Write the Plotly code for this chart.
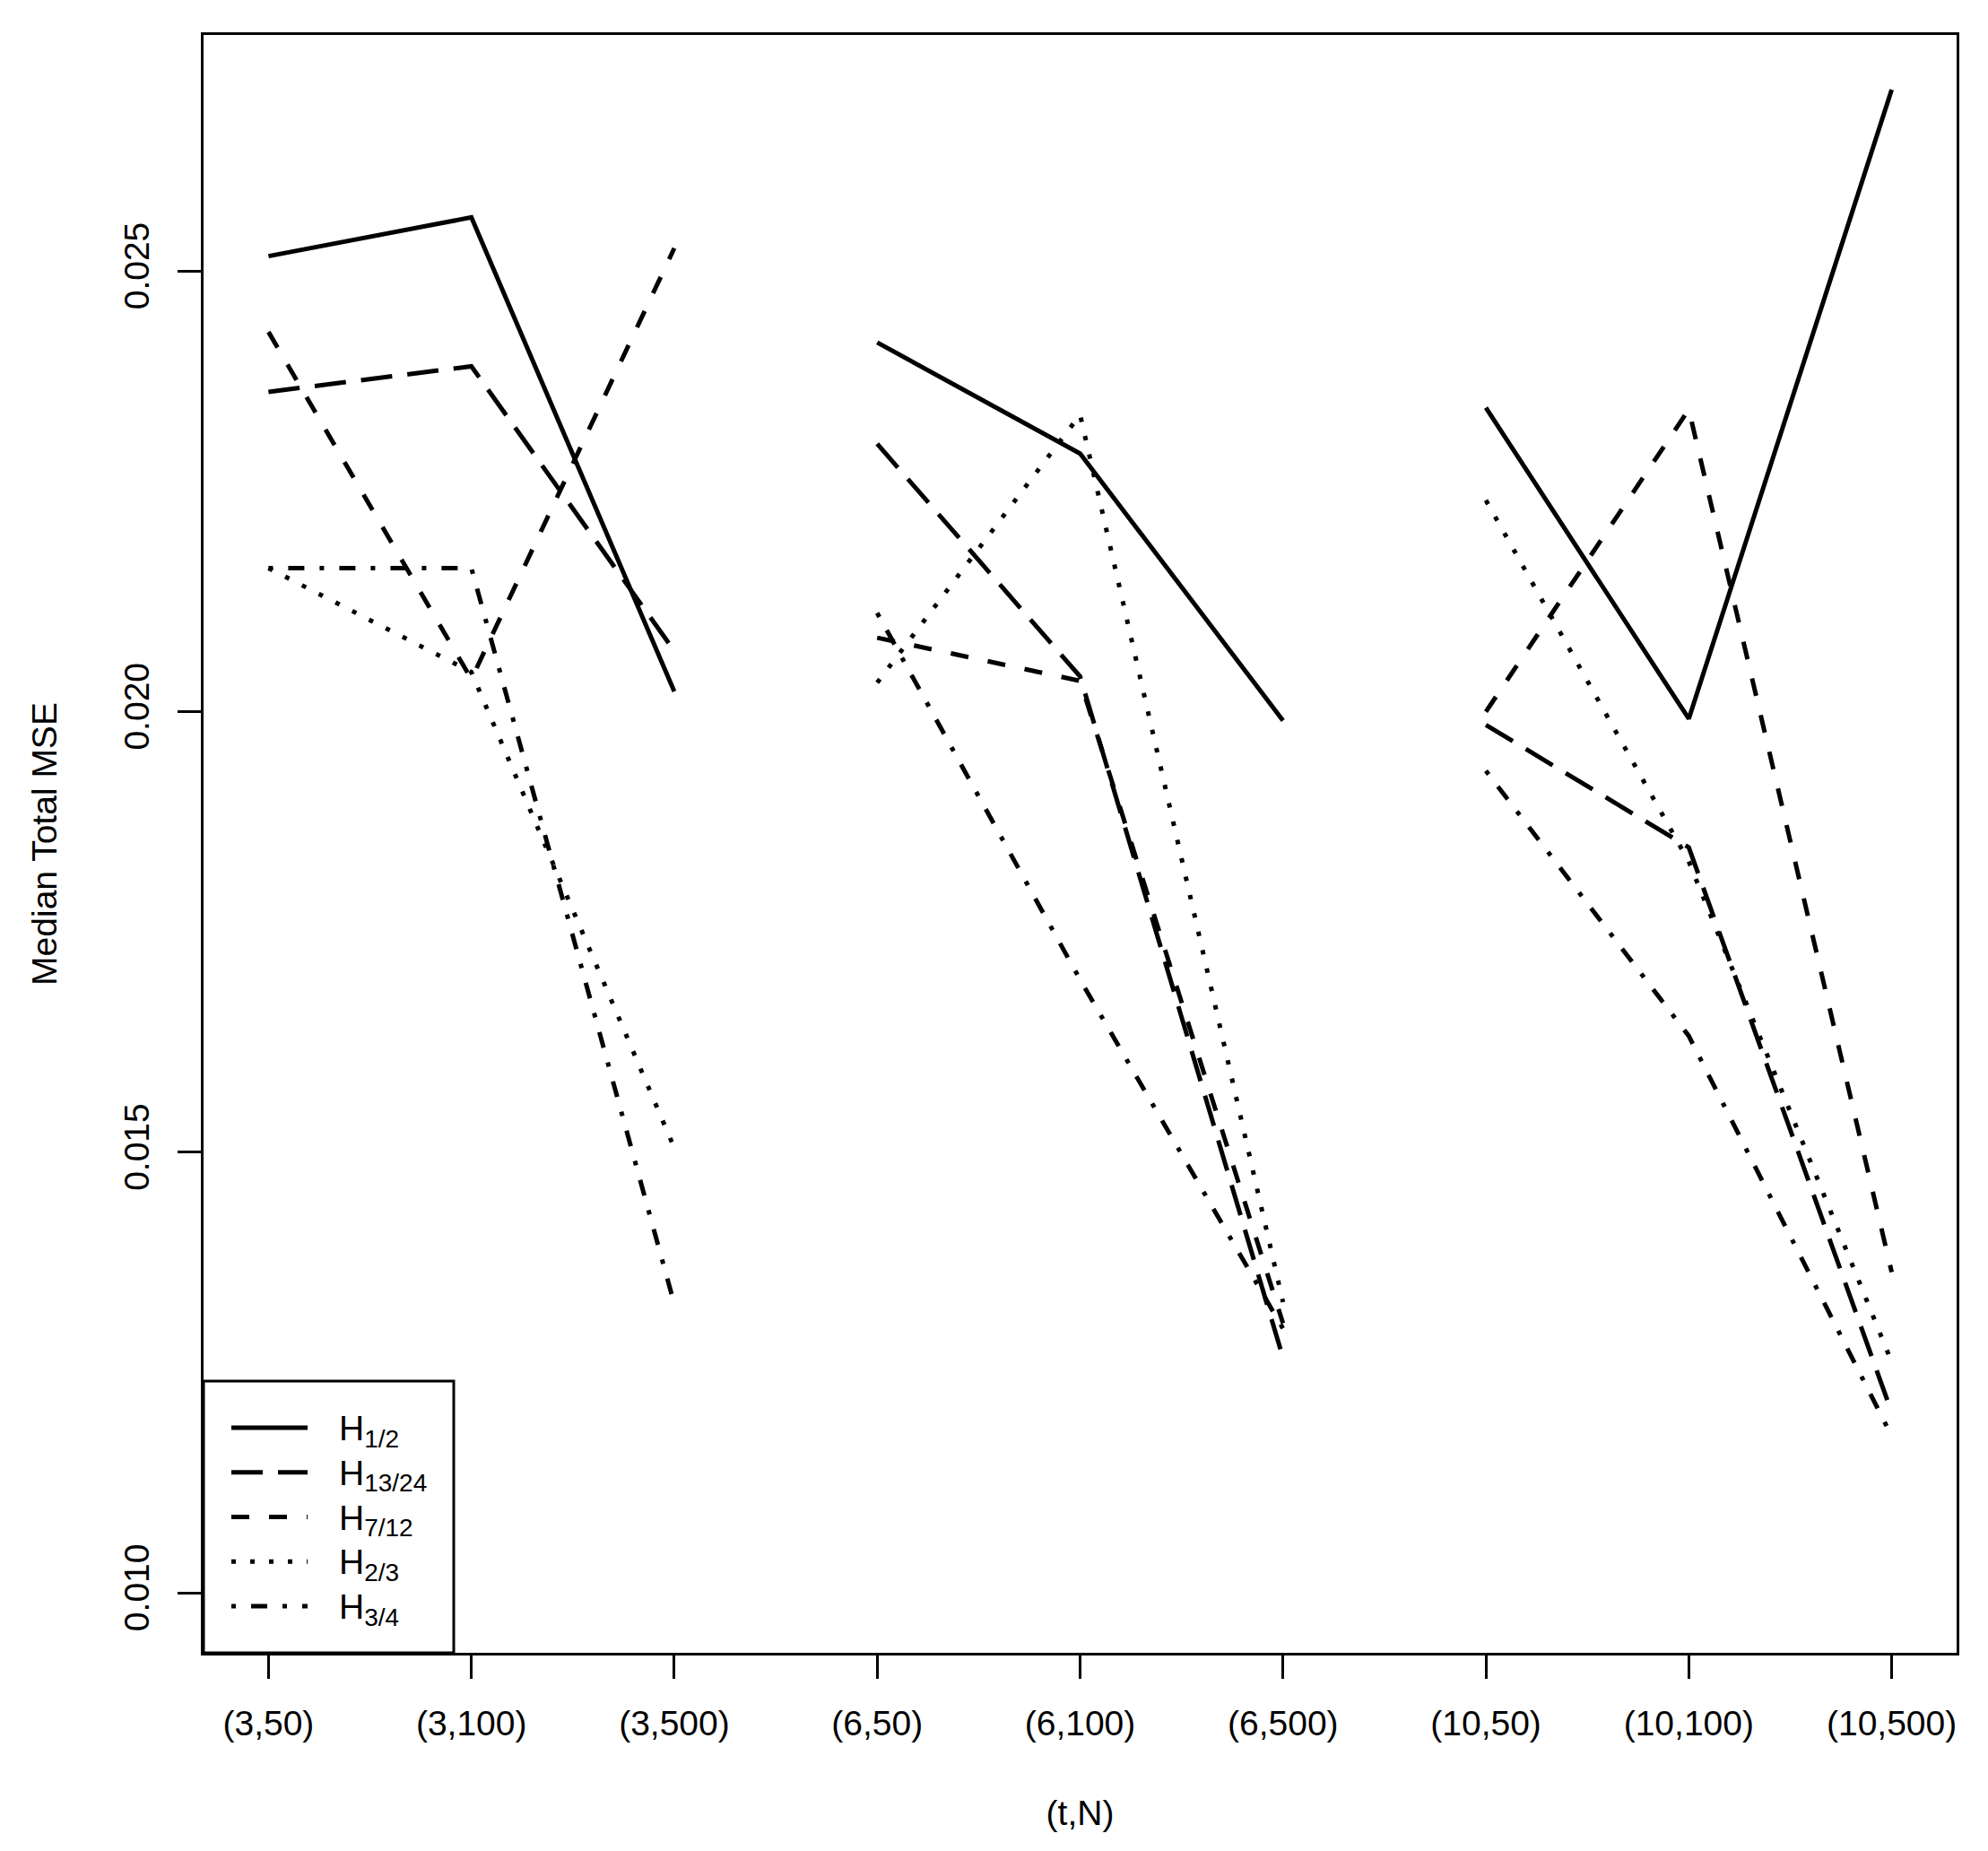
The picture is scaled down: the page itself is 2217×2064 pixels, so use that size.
import plotly.graph_objects as go

# (t,N) settings on the x axis
settings = ["(3,50)", "(3,100)", "(3,500)",
            "(6,50)", "(6,100)", "(6,500)",
            "(10,50)", "(10,100)", "(10,500)"]
group_size = 3

# median total MSE per estimator
h_1_2 = [0.02517, 0.02561, 0.02023, 0.02419, 0.02293, 0.01990, 0.02345, 0.01992, 0.02706]
h_13_24 = [0.02363, 0.02392, 0.02069, 0.02304, 0.02040, 0.01267, 0.01985, 0.01846, 0.01205]
h_7_12 = [0.02431, 0.02037, 0.02526, 0.02084, 0.02035, 0.01306, 0.02000, 0.02343, 0.01364]
h_2_3 = [0.02163, 0.02045, 0.01505, 0.02033, 0.02337, 0.01330, 0.02240, 0.01830, 0.01262]
h_3_4 = [0.02163, 0.02163, 0.01328, 0.02112, 0.01696, 0.01300, 0.01933, 0.01632, 0.01178]

subscripts = ["1/2", "13/24", "7/12", "2/3", "3/4"]
y_ticks = [0.010, 0.015, 0.020, 0.025]

FONT = "Liberation Sans, Arial, sans-serif"
NBSP = "\u00a0"

dashes = ["solid", "35px,17px", "20px,22px", "5px,16px", "5px,17px,18px,17px"]
values_list = [h_1_2, h_13_24, h_7_12, h_2_3, h_3_4]

# page body has an 8px margin, so the plot box is placed with that in mind
W, H = 2217, 2064
M_L, M_R, M_T, M_B = 219, 43, 31, 229
plot_w = W - M_L - M_R
plot_h = H - M_T - M_B


def with_breaks(values):
    # lines are not joined between the t groups
    xs, ys = [], []
    for i, v in enumerate(values):
        if i > 0 and i % group_size == 0:
            xs.append(None)
            ys.append(None)
        xs.append(i + 1)
        ys.append(v)
    return xs, ys


def legend_label(sub):
    return (NBSP * 3 + "<span style='font-size:39px'>H</span>"
            + "<sub><span style='font-size:28px'>" + sub + "</span></sub>")


fig = go.Figure()
for sub, values, dash in zip(subscripts, values_list, dashes):
    xs, ys = with_breaks(values)
    fig.add_trace(go.Scatter(
        x=xs, y=ys, name=legend_label(sub), mode="lines", connectgaps=False,
        line=dict(color="black", width=5, dash=dash),
    ))

axis_common = dict(
    showline=True, linecolor="black", linewidth=3, mirror=True,
    showgrid=False, zeroline=False,
    ticks="outside", ticklen=26, tickwidth=3, tickcolor="black",
    tickfont=dict(family=FONT, size=39, color="black"),
)

fig.update_xaxes(
    range=[0.68, 9.32],
    tickvals=list(range(1, len(settings) + 1)), ticktext=settings,
    ticklabelstandoff=16,
    title=dict(text="(t,N)", font=dict(family=FONT, size=39, color="black"), standoff=66),
    **axis_common,
)
fig.update_yaxes(
    range=[0.00932, 0.02768],
    tickvals=y_ticks, ticktext=[f"{v:.3f}" for v in y_ticks],
    tickangle=-90, ticklabelstandoff=16,
    title=dict(text="Median Total MSE", font=dict(family=FONT, size=39, color="black"), standoff=56),
    **axis_common,
)

# legend frame (bottom-left, like R's legend box)
fig.add_shape(
    type="rect", xref="paper", yref="paper",
    x0=0, x1=279 / plot_w, y0=0, y1=303 / plot_h,
    line=dict(color="black", width=3), fillcolor="white", layer="below",
)

fig.update_layout(
    width=W, height=H,
    margin=dict(l=M_L, r=M_R, t=M_T, b=M_B, autoexpand=False),
    plot_bgcolor="white", paper_bgcolor="white",
    font=dict(family=FONT, size=39, color="black"),
    showlegend=True,
    legend=dict(
        x=26 / plot_w, y=(303 - 22) / plot_h, xanchor="left", yanchor="top",
        borderwidth=0, bgcolor="rgba(0,0,0,0)",
        font=dict(family=FONT, size=36, color="black"),
        itemwidth=85, tracegroupgap=0,
    ),
)

fig.write_html("out.html")
